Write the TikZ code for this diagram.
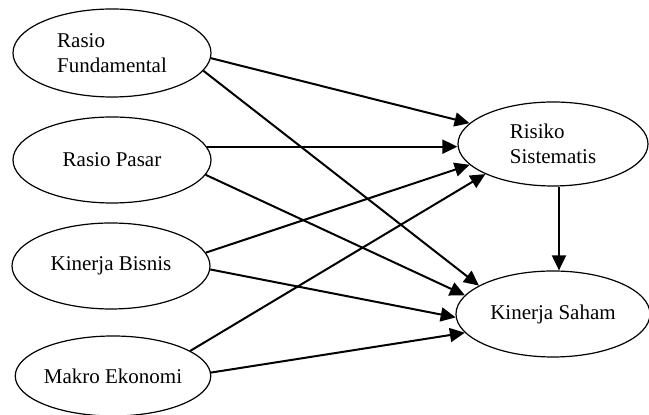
\documentclass[tikz,border=0pt]{standalone}
\usepackage{fontspec}
\setmainfont{Liberation Serif}
\usetikzlibrary{shapes.geometric, arrows.meta}

\begin{document}
\begin{tikzpicture}[x=0.5pt, y=-0.5pt,
        var/.style={draw, ellipse, line width=0.6pt, inner sep=0pt, minimum width=99pt, minimum height=43pt, align=left, font=\fontsize{10.5}{12.5}\selectfont},
        arr/.style={line width=1pt, -{Triangle[length=7.5pt, width=7pt]}}]
        \useasboundingbox (0, 0) rectangle (649, 415);
        \node[var, minimum height=44pt] (fund) at (112, 53) {Rasio\\Fundamental};
        \node[var] (pasar) at (112, 160) {Rasio Pasar};
        \node[var] (bisnis) at (111, 266) {Kinerja Bisnis};
        \node[var, minimum width=96pt, minimum height=40pt] (makro) at (113, 376) {Makro Ekonomi};
        \node[var, minimum width=95pt, minimum height=42pt] (risiko) at (553, 144) {Risiko\\Sistematis};
        \node[var, minimum width=97pt] (saham) at (553, 314) {Kinerja Saham};
        \draw[arr] (fund.-3) -- (risiko.166);
        \draw[arr] (fund.-11) -- (saham.159);
        \draw[arr] (pasar.8) -- (pasar.8 -| risiko.west);
        \draw[arr] (pasar.-9.5) -- (saham.168);
        \draw[arr] (bisnis.8.5) -- (risiko.194);
        \draw[arr] (bisnis.-2.3) -- (saham.182.4);
        \draw[arr] (makro.18) -- (risiko.204);
        \draw[arr] (makro.2) -- (saham.192.5);
        \draw[arr] ([xshift=3pt]risiko.south) -- ([xshift=3pt]saham.north);
    \end{tikzpicture}
\end{document}
